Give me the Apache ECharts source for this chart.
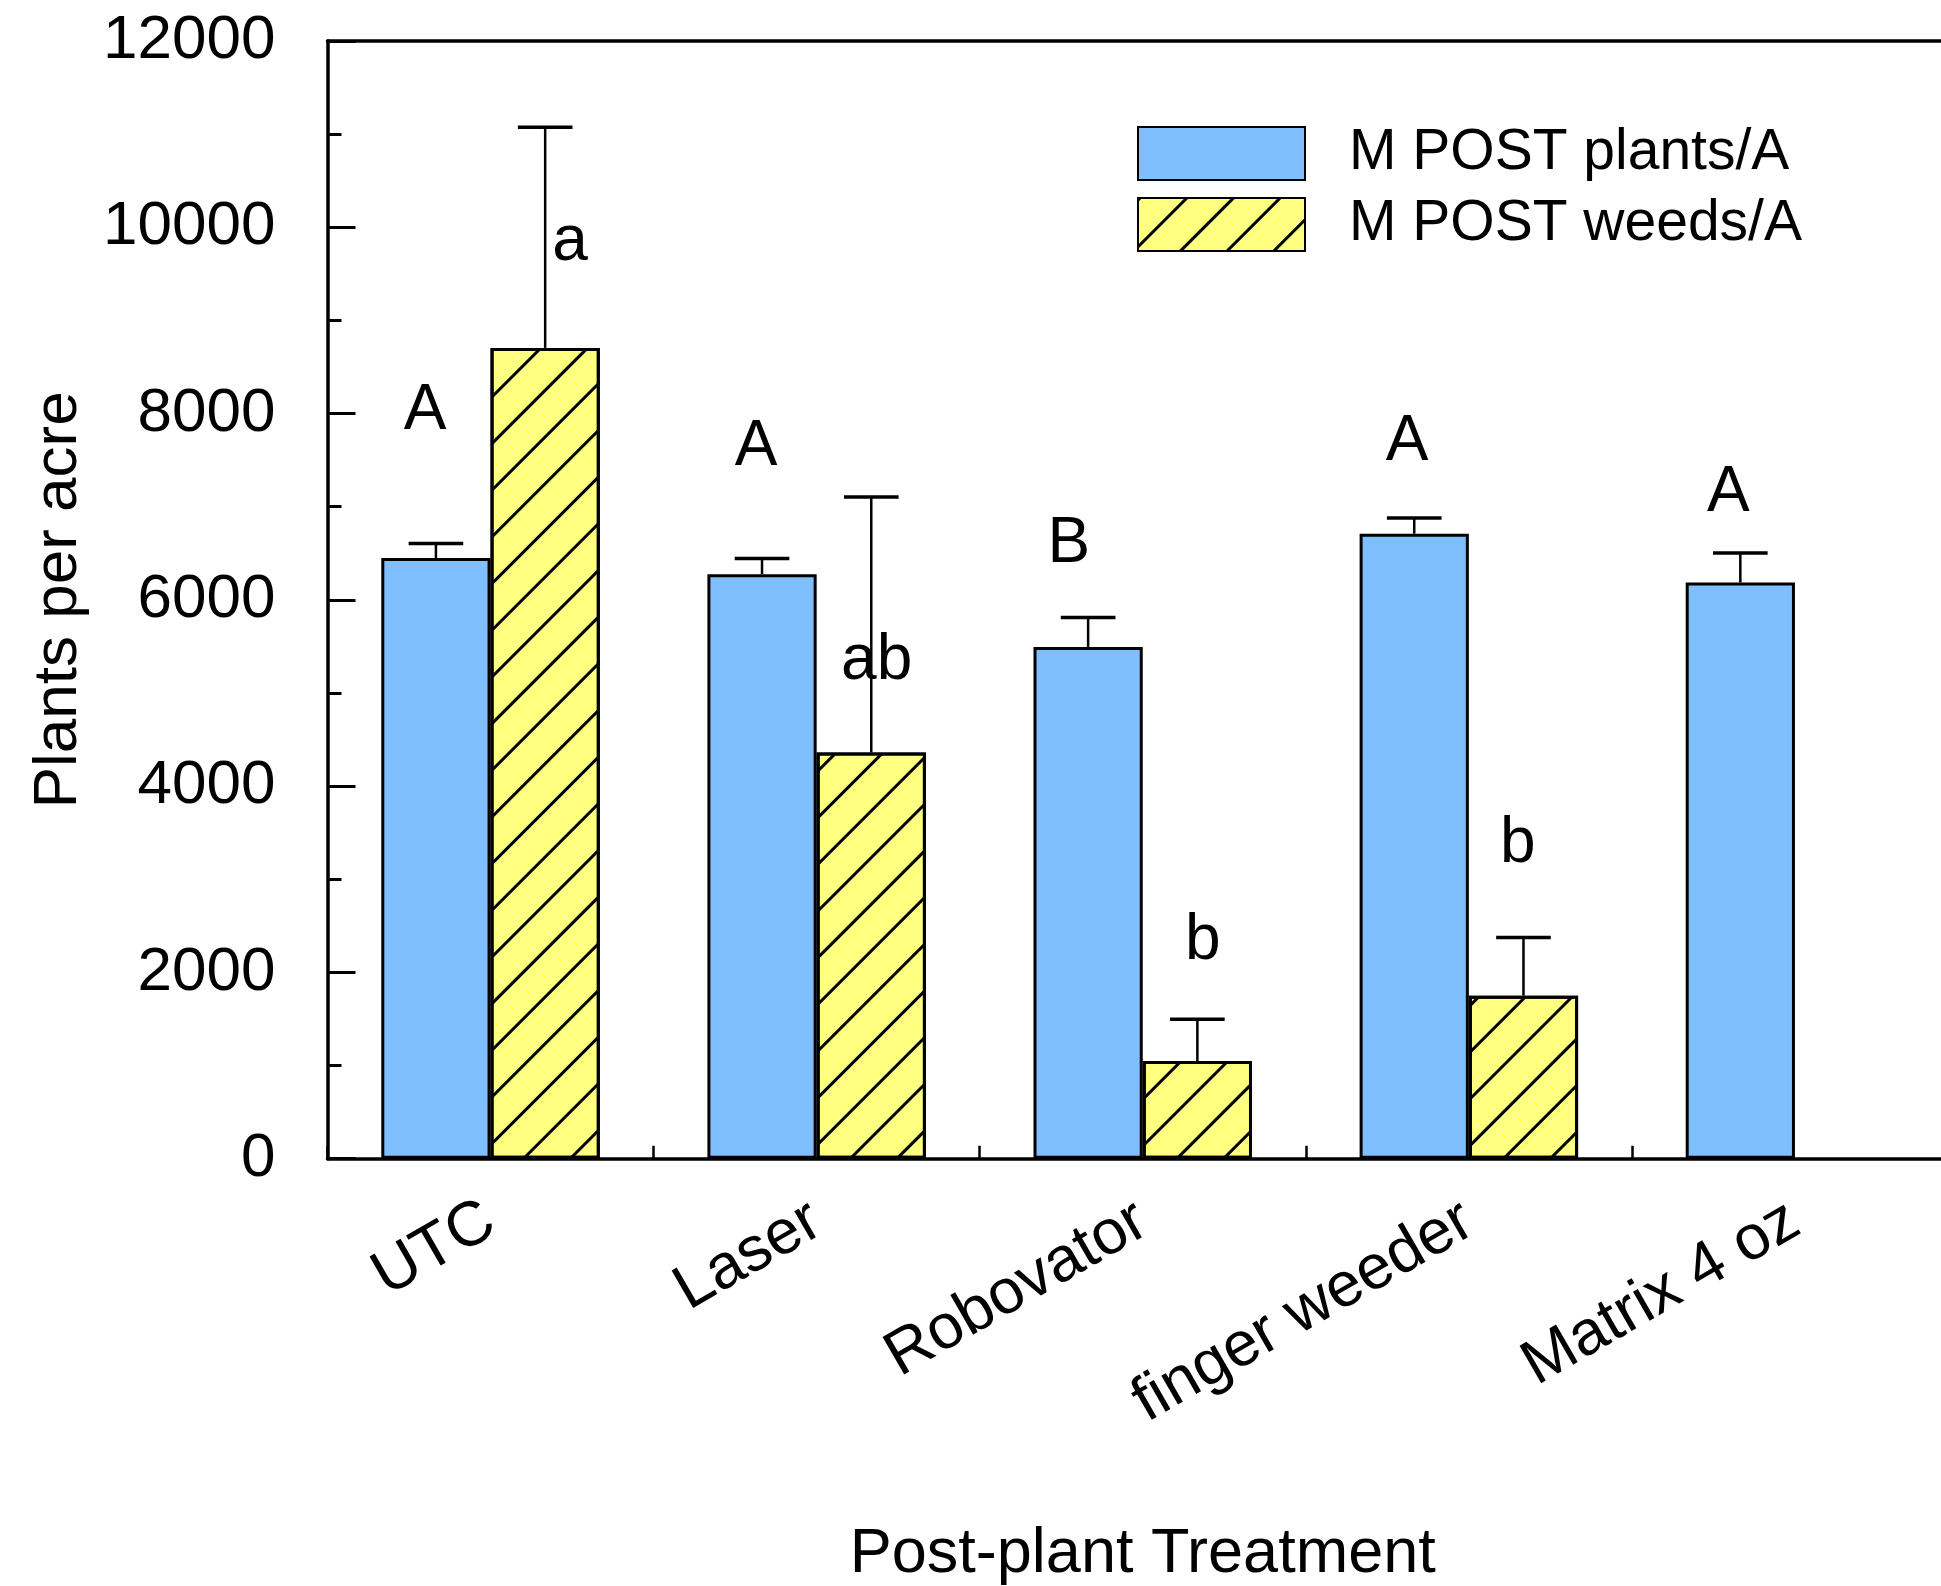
<!DOCTYPE html>
<html>
<head>
<meta charset="utf-8">
<script src="https://cdn.jsdelivr.net/npm/echarts@6/dist/echarts.min.js"></script>
<style>
  html, body { margin: 0; padding: 0; background: #fff; }
  #chart { width: 1941px; height: 1586px; }
</style>
</head>
<body>
<div id="chart"></div>
<script>
// ---- data ----
const categories = ['UTC', 'Laser', 'Robovator', 'finger weeder', 'Matrix 4 oz'];
const seriesNames = ['M POST plants/A', 'M POST weeds/A'];
const plants = [6450, 6275, 5495, 6710, 6185];
const plantsSE = [155, 169, 316, 170, 319];
const weeds = [8705, 4360, 1049, 1750, null];
const weedsSE = [2370, 2745, 449, 626, null];
const yTicks = [0, 2000, 4000, 6000, 8000, 10000, 12000];
// significance letters: text, category index, offset in category units, value at text middle
const letterText = ['A', 'a', 'A', 'ab', 'B', 'b', 'A', 'b', 'A'];
const letterCat = [0, 0, 1, 1, 2, 2, 3, 3, 4];
const letterDx = [-0.201, 0.244, -0.186, 0.184, -0.227, 0.184, -0.189, 0.150, -0.204];
const letterY = [8026, 9833, 7633, 5343, 6594, 2338, 7686, 3377, 7139];

// ---- chart ----
const FONT = 'Liberation Sans, Arial, Helvetica, sans-serif';
const CAT_GAP = 0.33;
const chart = echarts.init(document.getElementById('chart'), null, { renderer: 'canvas' });

function errorRender(sign, errArr) {
  return function (params, api) {
    const i = api.value(0);
    const mean = api.value(1);
    const se = errArr[params.dataIndex];
    if (mean == null || isNaN(mean) || se == null) return null;
    const base = api.coord([i, mean]);
    const top = api.coord([i, mean + se]);
    const band = api.size([1, 0])[0];
    const barW = band * (1 - CAT_GAP) / 2;
    const x = base[0] + sign * barW / 2;
    const capHalf = barW / 4;
    return {
      type: 'group',
      children: [
        { type: 'line', shape: { x1: x, y1: base[1], x2: x, y2: top[1] }, style: { stroke: '#000', lineWidth: 2.5 } },
        { type: 'line', shape: { x1: x - capHalf, y1: top[1], x2: x + capHalf, y2: top[1] }, style: { stroke: '#000', lineWidth: 3.5 } }
      ]
    };
  };
}

const option = {
  animation: false,
  backgroundColor: '#ffffff',
  textStyle: { fontFamily: FONT, color: '#000' },
  grid: { left: 327.5, width: 1630.5, top: 41, bottom: 427.3, containLabel: false, outerBoundsMode: 'none' },
  legend: {
    data: seriesNames,
    orient: 'vertical',
    left: 1132,
    top: 120,
    itemWidth: 167,
    itemHeight: 53,
    itemGap: 14,
    icon: 'rect',
    textStyle: { fontFamily: FONT, fontSize: 57, color: '#000', padding: [0, 0, 0, 39] }
  },
  xAxis: [
    {
      type: 'category',
      data: categories,
      position: 'bottom',
      axisLine: { show: true, lineStyle: { color: '#000', width: 3.5 } },
      axisTick: { show: true, inside: true, length: 13, lineStyle: { color: '#000', width: 2.5 } },
      axisLabel: { rotate: 30, fontFamily: FONT, fontSize: 63, color: '#000', margin: 58, interval: 0 },
      name: 'Post-plant Treatment',
      nameLocation: 'middle',
      nameGap: 364,
      nameTextStyle: { fontFamily: FONT, fontSize: 63, color: '#000' }
    },
    {
      type: 'category',
      data: categories,
      position: 'top',
      axisLine: { show: true, lineStyle: { color: '#000', width: 3.5 } },
      axisTick: { show: false },
      axisLabel: { show: false }
    }
  ],
  yAxis: {
    type: 'value',
    min: 0,
    max: 12000,
    interval: 2000,
    axisLine: { show: true, lineStyle: { color: '#000', width: 3.5 } },
    axisTick: { show: true, inside: true, length: 28, lineStyle: { color: '#000', width: 3 } },
    minorTick: { show: true, splitNumber: 2, length: 14, lineStyle: { color: '#000', width: 3 } },
    splitLine: { show: false },
    axisLabel: {
      fontFamily: FONT, fontSize: 62, color: '#000', margin: 52,
      formatter: function (v) { return yTicks.indexOf(v) >= 0 ? String(v) : ''; }
    },
    name: 'Plants per acre',
    nameLocation: 'middle',
    nameGap: 238,
    nameTextStyle: { fontFamily: FONT, fontSize: 62, color: '#000' }
  },
  series: [
    {
      name: seriesNames[0],
      type: 'bar',
      data: plants,
      barGap: '0%',
      barCategoryGap: (CAT_GAP * 100) + '%',
      itemStyle: { color: '#80BFFF', borderColor: '#000', borderWidth: 3 },
      z: 2
    },
    {
      name: seriesNames[1],
      type: 'bar',
      data: weeds,
      barGap: '0%',
      barCategoryGap: (CAT_GAP * 100) + '%',
      itemStyle: {
        color: '#FFFF80', borderColor: '#000', borderWidth: 3,
        decal: {
          symbol: 'rect', symbolSize: 1, color: '#000',
          dashArrayX: [1, 0], dashArrayY: [3, 30], rotation: -Math.PI / 4
        }
      },
      z: 2
    },
    {
      type: 'custom',
      data: plants.map((v, i) => [i, v]),
      encode: { x: 0, y: 1 },
      renderItem: errorRender(-1, plantsSE),
      z: 5, silent: true
    },
    {
      type: 'custom',
      data: weeds.map((v, i) => [i, v == null ? NaN : v]),
      encode: { x: 0, y: 1 },
      renderItem: errorRender(1, weedsSE),
      z: 5, silent: true
    },
    {
      type: 'custom',
      data: letterY.map((v, k) => [letterCat[k], v]),
      encode: { x: 0, y: 1 },
      renderItem: function (params, api) {
        const k = params.dataIndex;
        const p = api.coord([api.value(0), api.value(1)]);
        const band = api.size([1, 0])[0];
        return {
          type: 'text',
          x: p[0] + letterDx[k] * band,
          y: p[1],
          style: {
            text: letterText[k], fill: '#000',
            font: '64px ' + FONT,
            align: 'center', verticalAlign: 'middle'
          }
        };
      },
      z: 6, silent: true
    }
  ]
};
chart.setOption(option);
</script>
</body>
</html>
